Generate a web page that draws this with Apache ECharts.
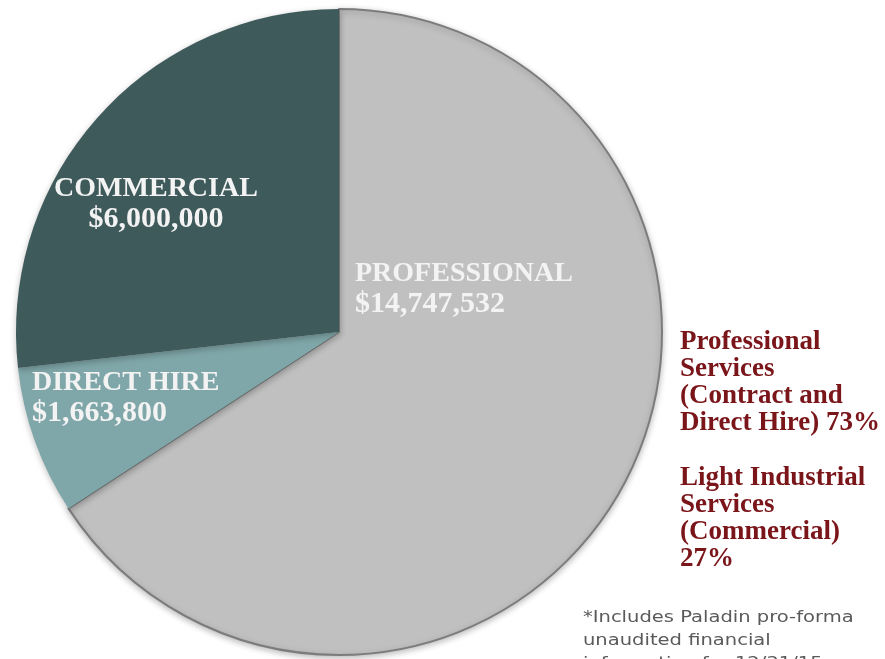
<!DOCTYPE html>
<html>
<head>
<meta charset="utf-8">
<script src="https://cdn.jsdelivr.net/npm/echarts@6/dist/echarts.min.js"></script>
<style>
html,body{margin:0;padding:0;background:#fff;}
#chart{width:885px;height:659px;}
</style>
</head>
<body>
<div id="chart"></div>
<script>
// ---- data ----
var categories = ['PROFESSIONAL', 'DIRECT HIRE', 'COMMERCIAL'];
var values = [14747532, 1663800, 6000000];
var summaryLines1 = ['Professional', 'Services', '(Contract and', 'Direct Hire) 73%'];
var summaryLines2 = ['Light Industrial', 'Services', '(Commercial)', '27%'];
var footnoteLines = ['*Includes Paladin pro-forma', 'unaudited financial', 'information for 12/31/15'];

// ---- layout / style ----
var sliceColors = ['#c0c0c0', '#7fa6a8', '#3f5a5b'];
var labelPos = {
  'PROFESSIONAL': { x: 355, y: 258, align: 'left' },
  'DIRECT HIRE': { x: 32, y: 367, align: 'left' },
  'COMMERCIAL': { x: 156, y: 173, align: 'center' }
};

var chart = echarts.init(document.getElementById('chart'), null, { renderer: 'canvas' });

var pieData = categories.map(function (c, i) {
  var item = { name: c, value: values[i], itemStyle: { color: sliceColors[i] } };
  if (i === 0) {
    item.itemStyle.borderColor = '#7c7c7c';
    item.itemStyle.borderWidth = 2;
  }
  return item;
});

var serif = '"Liberation Serif", "Times New Roman", serif';

chart.setOption({
  backgroundColor: '#ffffff',
  animation: false,
  series: [{
    type: 'pie',
    center: [339, 332],
    radius: 323,
    startAngle: 90,
    clockwise: true,
    silent: true,
    itemStyle: {
      shadowBlur: 6,
      shadowColor: 'rgba(0,0,0,0.25)',
      shadowOffsetY: 2
    },
    label: {
      show: true,
      position: 'inside',
      formatter: function (p) {
        return '{n|' + p.name + '}\n{v|$' + p.value.toLocaleString('en-US') + '}';
      },
      color: '#f3f3f3',
      fontFamily: serif,
      fontWeight: 'bold',
      verticalAlign: 'top',
      rich: {
        n: { fontSize: 28, lineHeight: 31, fontFamily: serif, fontWeight: 'bold', color: '#f3f3f3' },
        v: { fontSize: 30, lineHeight: 31, fontFamily: serif, fontWeight: 'bold', color: '#f3f3f3' }
      }
    },
    labelLayout: function (params) {
      var name = categories[params.dataIndex];
      var p = labelPos[name];
      return { x: p.x, y: p.y, align: p.align, verticalAlign: 'top' };
    },
    labelLine: { show: false },
    data: pieData
  }],
  graphic: [
    {
      type: 'text', x: 680, y: 329,
      style: {
        text: summaryLines1.join('\n'),
        fill: '#7a1519',
        font: 'bold 27px ' + serif,
        lineHeight: 27
      }
    },
    {
      type: 'text', x: 680, y: 465,
      style: {
        text: summaryLines2.join('\n'),
        fill: '#7a1519',
        font: 'bold 27px ' + serif,
        lineHeight: 27
      }
    },
    {
      type: 'text', x: 583, y: 606, scaleX: 1.22,
      style: {
        text: footnoteLines.join('\n'),
        fill: '#5a5a5a',
        font: '16px "DejaVu Sans", sans-serif',
        lineHeight: 23
      }
    }
  ]
});
</script>
</body>
</html>
